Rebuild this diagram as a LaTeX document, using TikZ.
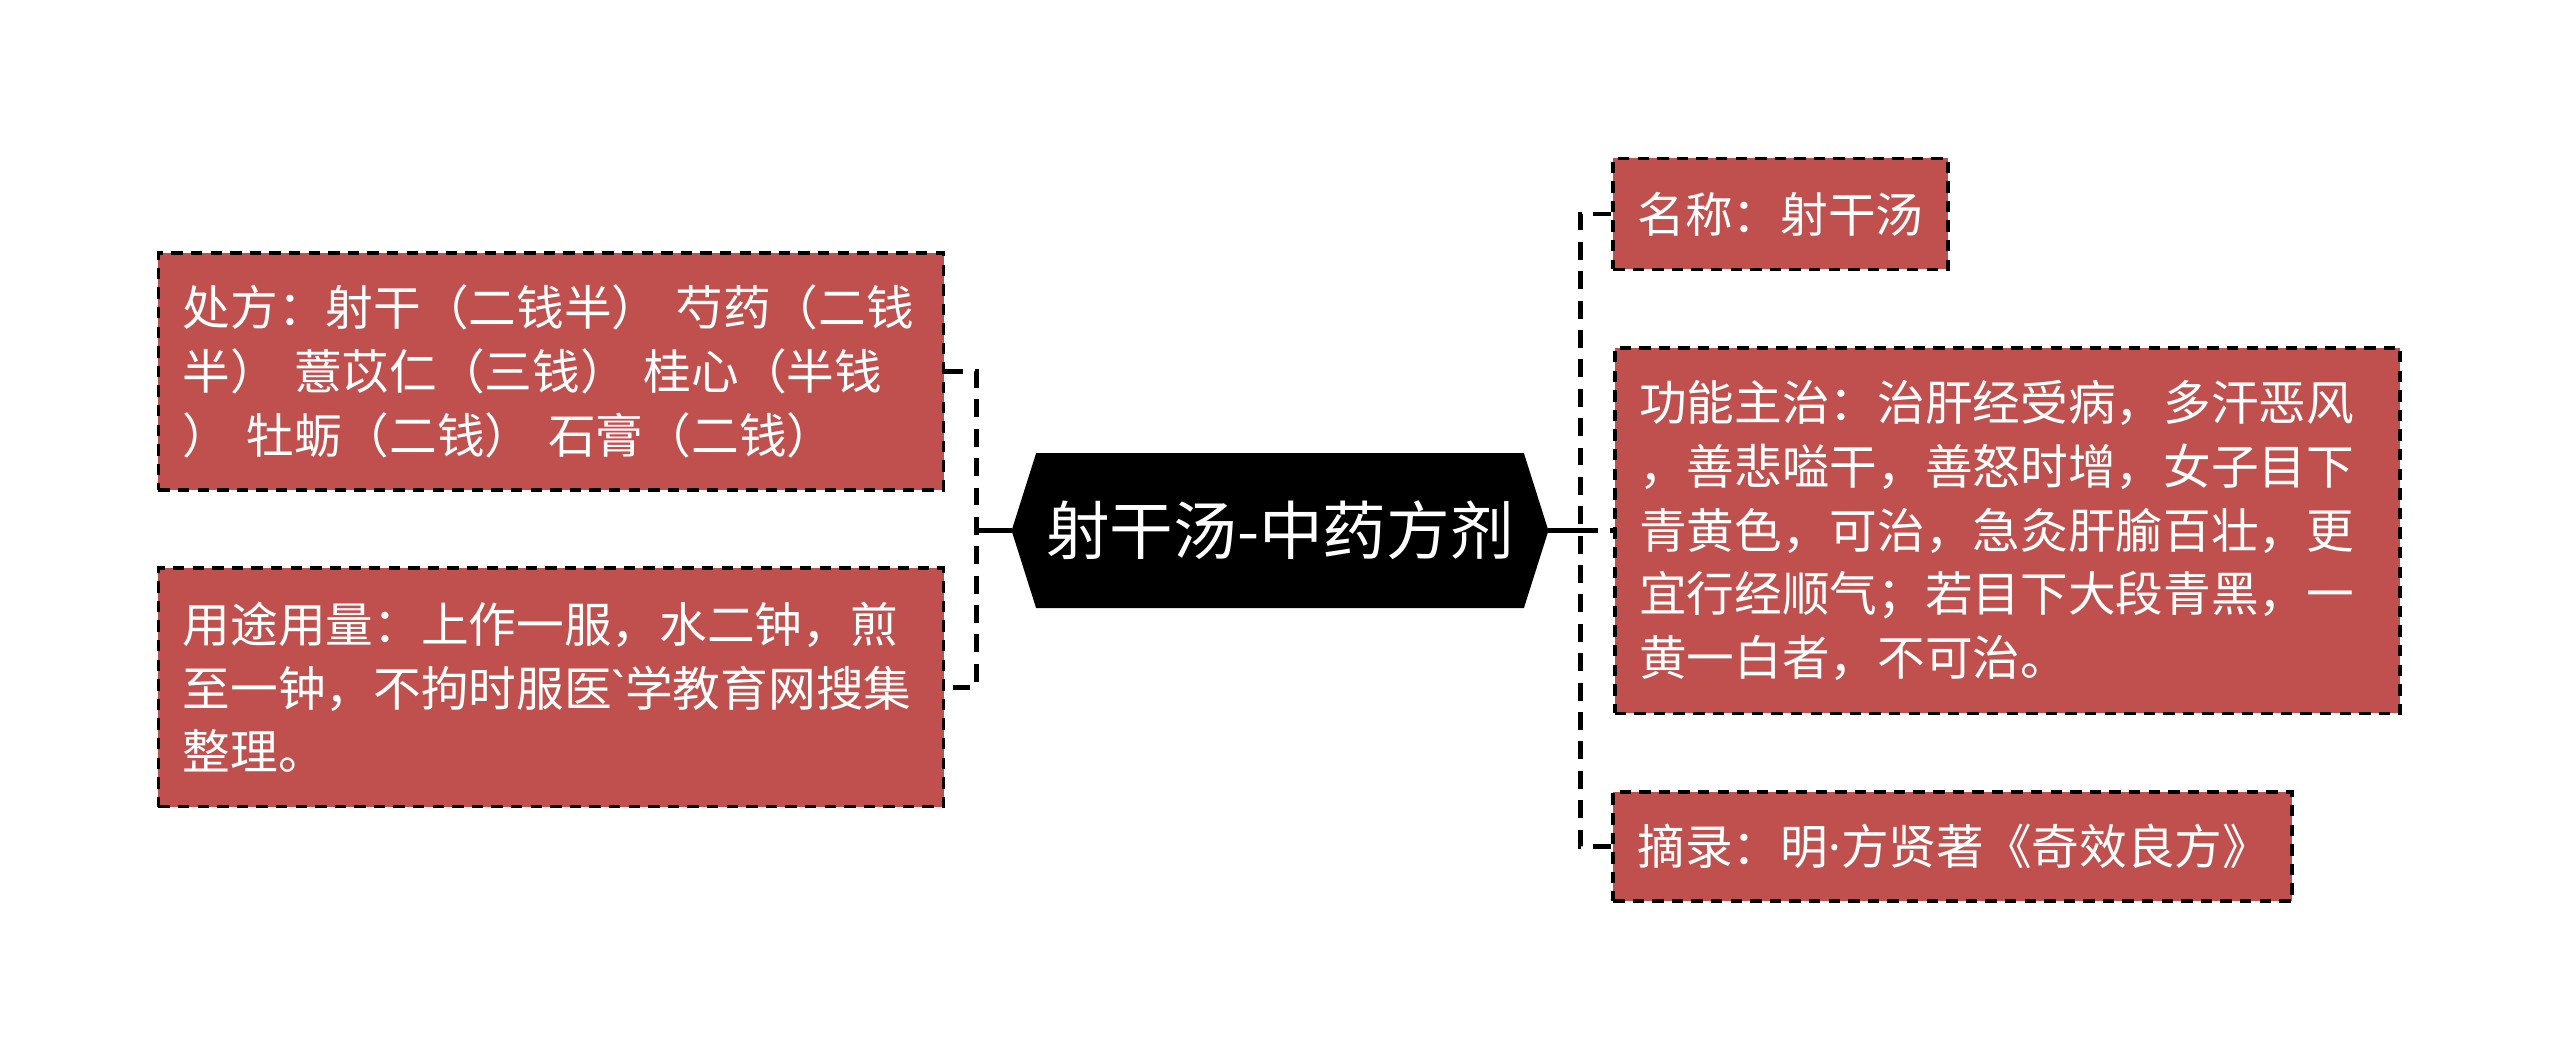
\documentclass[tikz,border=0pt]{standalone}
\usepackage{fontspec}
\setmainfont{Noto Sans CJK SC}
\newfontfamily\latinfont{Noto Sans}
\usetikzlibrary{backgrounds}
\definecolor{boxred}{RGB}{192,80,77}
\tikzset{
  leaf/.style={draw=black, line width=1.1pt, dash pattern=on 3.5pt off 2.5pt, fill=boxred, text=white,
    font=\fontsize{14.6}{19.5}\selectfont, align=left, inner xsep=7.5pt, inner ysep=0pt},
  conn/.style={draw=black, line width=1.4pt, dash pattern=on 5.5pt off 3.5pt},
  stub/.style={draw=black, line width=1.4pt},
  rootnode/.style={text=white, font=\fontsize{19.5}{23}\selectfont, minimum width=149pt,
    minimum height=47pt, inner sep=0pt}
}
\begin{document}
\begin{tikzpicture}[x=0.5pt,y=-0.5pt]
\useasboundingbox (0,0) rectangle (1568,650);

% central node
\node[rootnode] (root) at (784,325) {射干汤-中药方剂};
\begin{pgfonlayer}{background}
\fill[black] (root.north west) -- (root.north east) -- ([xshift=7.5pt]root.east)
  -- (root.south east) -- (root.south west) -- ([xshift=-7.5pt]root.west) -- cycle;
\end{pgfonlayer}
\coordinate (rootL) at ([xshift=-7.5pt]root.west);
\coordinate (rootR) at ([xshift=7.5pt]root.east);

% left leaves
\node[leaf, text width=225.5pt, minimum height=72.5pt] (b1) at (337.5,227.5)
  {处方：射干（二钱半）~芍药（二钱\\半）~薏苡仁（三钱）~桂心（半钱\\）~牡蛎（二钱）~石膏（二钱）};
\node[leaf, text width=225.5pt, minimum height=73pt] (b2) at (337.5,421)
  {用途用量：上作一服，水二钟，煎\\至一钟，不拘时服医{\latinfont\char"0060}学教育网搜集\\整理。};

% right leaves
\node[leaf, text width=87.5pt, minimum height=34pt] (bA) at (1090.5,131)
  {名称：射干汤};
\node[leaf, text width=225.5pt, minimum height=112pt] (bB) at (1229.5,325)
  {功能主治：治肝经受病，多汗恶风\\，善悲嗌干，善怒时增，女子目下\\青黄色，可治，急灸肝腧百壮，更\\宜行经顺气；若目下大段青黑，一\\黄一白者，不可治。};
\node[leaf, text width=193pt, minimum height=33.5pt] (bC) at (1196,518.5)
  {摘录：明{\latinfont\char"00B7}方贤著《奇效良方》};

% connectors
\coordinate (lj) at (598,325);
\coordinate (rj) at (968,325);
\begin{pgfonlayer}{background}
\draw[conn] (b1.east) -| (lj) |- (b2.east);
\draw[stub] (lj) -- (rootL);
\draw[conn] (bA.west) -| (rj) |- (bC.west);
\draw[conn] (rj) -- (bB.west);
\draw[stub] (rootR) -- (rj);
\end{pgfonlayer}
\end{tikzpicture}
\end{document}
